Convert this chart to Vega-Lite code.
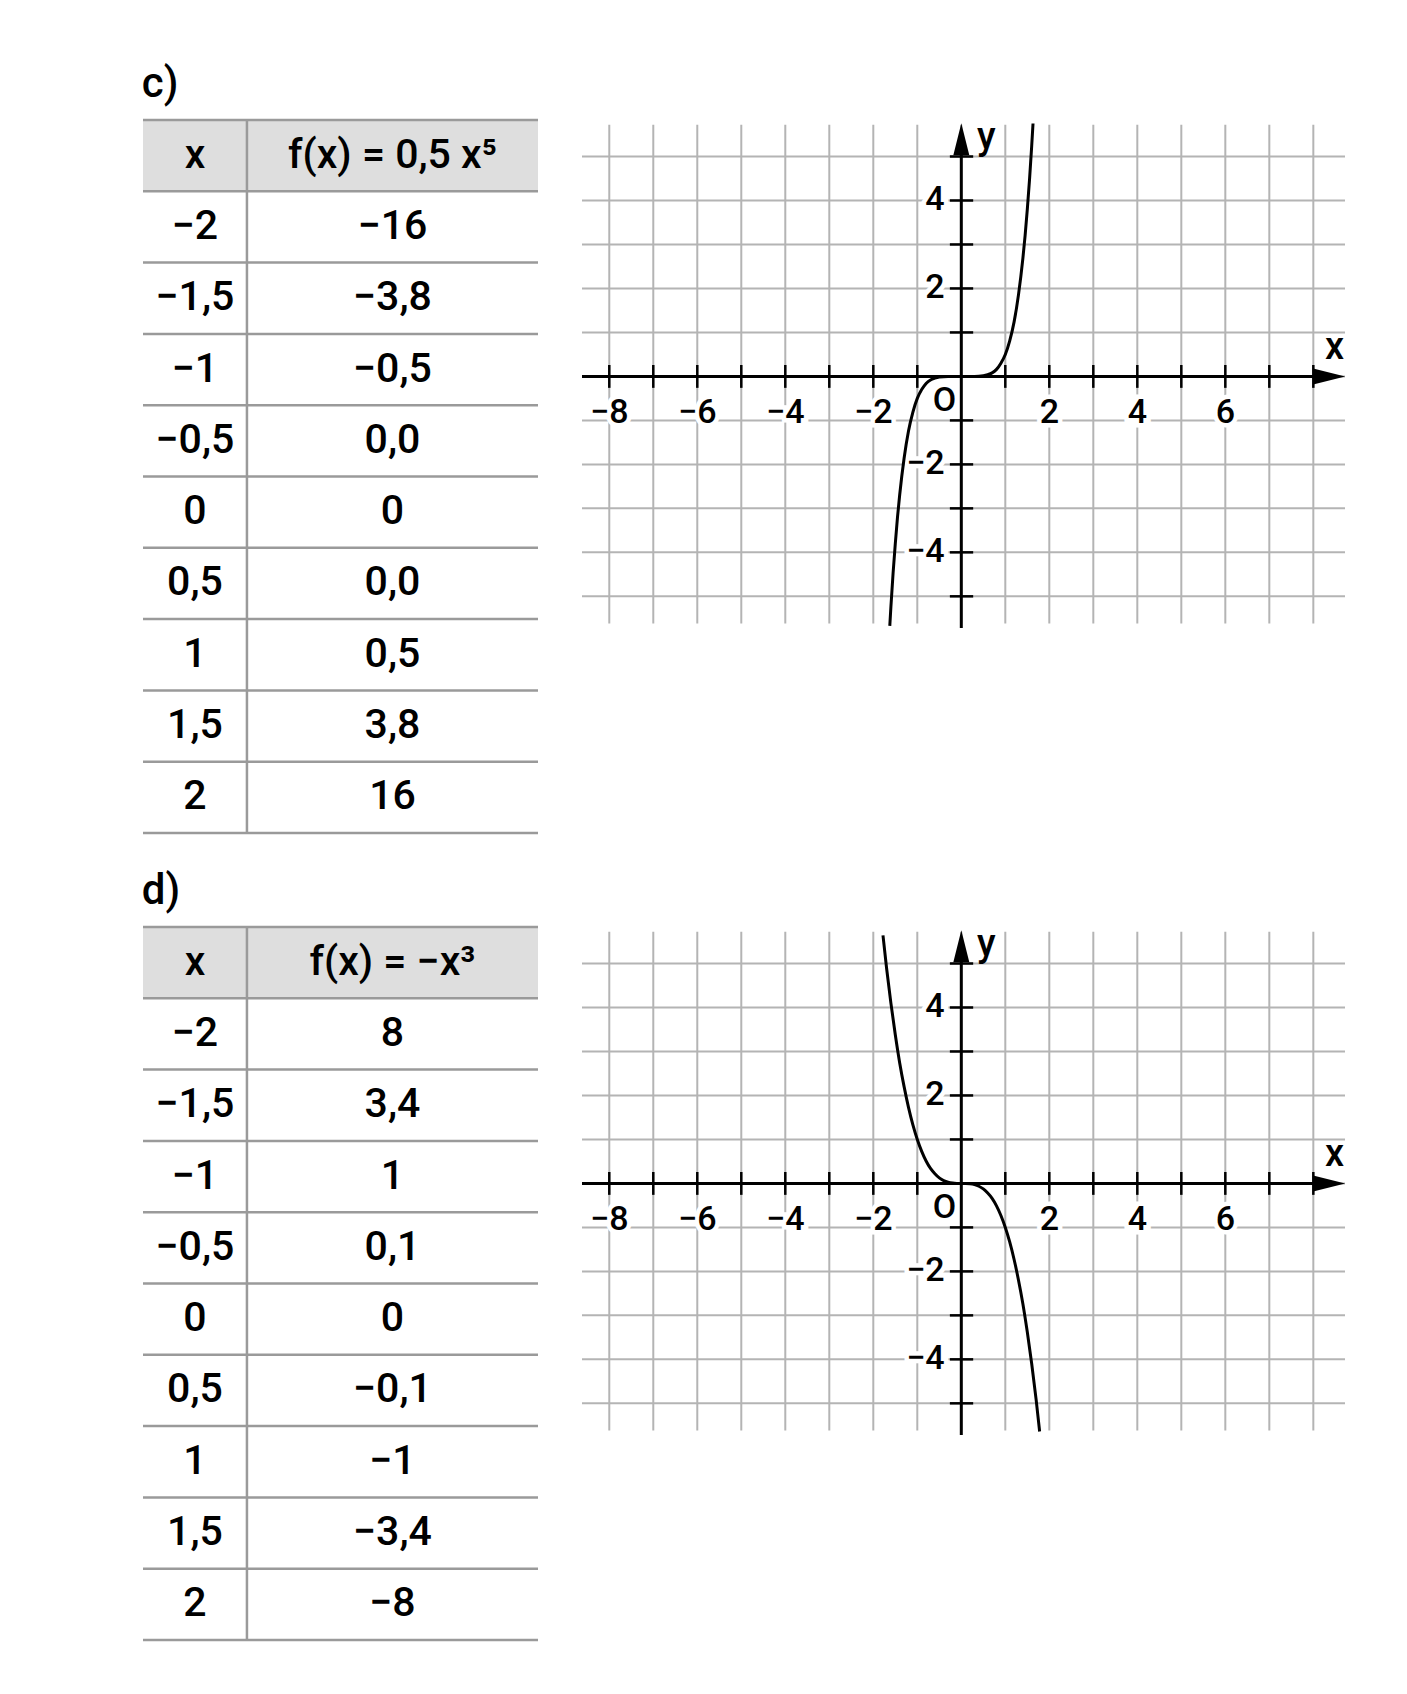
{
  "$schema": "https://vega.github.io/schema/vega-lite/v6.json",
  "background": "white",
  "padding": {"left": 141, "top": 62, "right": 20, "bottom": 20},
  "config": {"view": {"stroke": null}, "font": "Roboto"},
  "columns": 2,
  "align": "each",
  "bounds": "flush",
  "spacing": {"row": 94, "column": 44},
  "datasets": {
    "tableC": [
      {"x": "x", "f": "f(x) = 0,5 x⁵"},
      {"x": "−2", "f": "−16"},
      {"x": "−1,5", "f": "−3,8"},
      {"x": "−1", "f": "−0,5"},
      {"x": "−0,5", "f": "0,0"},
      {"x": "0", "f": "0"},
      {"x": "0,5", "f": "0,0"},
      {"x": "1", "f": "0,5"},
      {"x": "1,5", "f": "3,8"},
      {"x": "2", "f": "16"}
    ],
    "tableD": [
      {"x": "x", "f": "f(x) = −x³"},
      {"x": "−2", "f": "8"},
      {"x": "−1,5", "f": "3,4"},
      {"x": "−1", "f": "1"},
      {"x": "−0,5", "f": "0,1"},
      {"x": "0", "f": "0"},
      {"x": "0,5", "f": "−0,1"},
      {"x": "1", "f": "−1"},
      {"x": "1,5", "f": "−3,4"},
      {"x": "2", "f": "−8"}
    ],
    "gridX": [{"v": -8}, {"v": -7}, {"v": -6}, {"v": -5}, {"v": -4}, {"v": -3}, {"v": -2}, {"v": -1}, {"v": 0}, {"v": 1}, {"v": 2}, {"v": 3}, {"v": 4}, {"v": 5}, {"v": 6}, {"v": 7}, {"v": 8}],
    "gridY": [{"v": -5}, {"v": -4}, {"v": -3}, {"v": -2}, {"v": -1}, {"v": 0}, {"v": 1}, {"v": 2}, {"v": 3}, {"v": 4}, {"v": 5}],
    "tickX": [{"v": -8}, {"v": -7}, {"v": -6}, {"v": -5}, {"v": -4}, {"v": -3}, {"v": -2}, {"v": -1}, {"v": 1}, {"v": 2}, {"v": 3}, {"v": 4}, {"v": 5}, {"v": 6}, {"v": 7}, {"v": 8}],
    "tickY": [{"v": -5}, {"v": -4}, {"v": -3}, {"v": -2}, {"v": -1}, {"v": 1}, {"v": 2}, {"v": 3}, {"v": 4}, {"v": 5}],
    "labX": [{"v": -8, "t": "−8"}, {"v": -6, "t": "−6"}, {"v": -4, "t": "−4"}, {"v": -2, "t": "−2"}, {"v": 2, "t": "2"}, {"v": 4, "t": "4"}, {"v": 6, "t": "6"}],
    "labY": [{"v": 4, "t": "4"}, {"v": 2, "t": "2"}, {"v": -2, "t": "−2"}, {"v": -4, "t": "−4"}],
    "curveC": [
      {"x": -1.625, "y": -5.67}, {"x": -1.6, "y": -5.24}, {"x": -1.55, "y": -4.47}, {"x": -1.5, "y": -3.8}, {"x": -1.45, "y": -3.2}, {"x": -1.4, "y": -2.69},
      {"x": -1.3, "y": -1.86}, {"x": -1.2, "y": -1.24}, {"x": -1.1, "y": -0.81}, {"x": -1.0, "y": -0.5}, {"x": -0.9, "y": -0.3},
      {"x": -0.8, "y": -0.16}, {"x": -0.7, "y": -0.08}, {"x": -0.6, "y": -0.04}, {"x": -0.5, "y": -0.016}, {"x": -0.3, "y": -0.001},
      {"x": 0, "y": 0}, {"x": 0.3, "y": 0.001}, {"x": 0.5, "y": 0.016}, {"x": 0.6, "y": 0.04}, {"x": 0.7, "y": 0.08}, {"x": 0.8, "y": 0.16},
      {"x": 0.9, "y": 0.3}, {"x": 1.0, "y": 0.5}, {"x": 1.1, "y": 0.81}, {"x": 1.2, "y": 1.24}, {"x": 1.3, "y": 1.86}, {"x": 1.4, "y": 2.69},
      {"x": 1.45, "y": 3.2}, {"x": 1.5, "y": 3.8}, {"x": 1.55, "y": 4.47}, {"x": 1.6, "y": 5.24}, {"x": 1.63, "y": 5.75}
    ],
    "curveD": [
      {"x": -1.78, "y": 5.64}, {"x": -1.7, "y": 4.91}, {"x": -1.6, "y": 4.1}, {"x": -1.5, "y": 3.38}, {"x": -1.4, "y": 2.74},
      {"x": -1.3, "y": 2.2}, {"x": -1.2, "y": 1.73}, {"x": -1.1, "y": 1.33}, {"x": -1.0, "y": 1.0}, {"x": -0.9, "y": 0.73},
      {"x": -0.8, "y": 0.51}, {"x": -0.7, "y": 0.34}, {"x": -0.6, "y": 0.22}, {"x": -0.5, "y": 0.125}, {"x": -0.4, "y": 0.064},
      {"x": -0.3, "y": 0.027}, {"x": -0.2, "y": 0.008}, {"x": -0.1, "y": 0.001}, {"x": 0, "y": 0}, {"x": 0.1, "y": -0.001},
      {"x": 0.2, "y": -0.008}, {"x": 0.3, "y": -0.027}, {"x": 0.4, "y": -0.064}, {"x": 0.5, "y": -0.125}, {"x": 0.6, "y": -0.22},
      {"x": 0.7, "y": -0.34}, {"x": 0.8, "y": -0.51}, {"x": 0.9, "y": -0.73}, {"x": 1.0, "y": -1.0}, {"x": 1.1, "y": -1.33},
      {"x": 1.2, "y": -1.73}, {"x": 1.3, "y": -2.2}, {"x": 1.4, "y": -2.74}, {"x": 1.5, "y": -3.38}, {"x": 1.6, "y": -4.1},
      {"x": 1.7, "y": -4.91}, {"x": 1.78, "y": -5.64}
    ],
    "one": [{"k": 1}]
  },
  "concat": [
    {
      "title": {"text": "c)", "anchor": "start", "fontSize": 42, "fontWeight": 500, "baseline": "alphabetic", "offset": -20, "font": "Roboto", "color": "black"},
      "width": 395, "height": 713,
      "data": {"name": "tableC"},
      "layer": [
        {"transform": [{"filter": "datum.x === 'x'"}], "mark": {"type": "rect", "fill": "#dedede"},
         "encoding": {"y": {"field": "x", "type": "ordinal", "sort": null, "axis": null, "scale": {"domain": ["x", "−2", "−1,5", "−1", "−0,5", "0", "0,5", "1", "1,5", "2"], "paddingInner": 0, "paddingOuter": 0}},
                      "x": {"datum": 0, "type": "quantitative", "axis": null, "scale": {"domain": [0, 3.8], "nice": false}}, "x2": {"datum": 3.8}}},
        {"mark": {"type": "rule", "stroke": "#9a9a9a", "strokeWidth": 2.5},
         "encoding": {"y": {"field": "x", "type": "ordinal", "sort": null, "bandPosition": 0, "axis": null}}},
        {"transform": [{"filter": "datum.x === '2'"}], "mark": {"type": "rule", "stroke": "#9a9a9a", "strokeWidth": 2.5},
         "encoding": {"y": {"field": "x", "type": "ordinal", "sort": null, "bandPosition": 1, "axis": null}}},
        {"transform": [{"filter": "datum.x === 'x'"}], "mark": {"type": "rule", "stroke": "#9a9a9a", "strokeWidth": 2.5},
         "encoding": {"x": {"datum": 1, "type": "quantitative"}}},
        {"mark": {"type": "text", "fontSize": 41, "fontWeight": 500, "color": "black", "baseline": "middle", "align": "center"},
         "encoding": {"y": {"field": "x", "type": "ordinal", "sort": null, "axis": null}, "x": {"datum": 0.5, "type": "quantitative"}, "text": {"field": "x"}}},
        {"mark": {"type": "text", "fontSize": 41, "fontWeight": 500, "color": "black", "baseline": "middle", "align": "center"},
         "encoding": {"y": {"field": "x", "type": "ordinal", "sort": null, "axis": null}, "x": {"datum": 2.4, "type": "quantitative"}, "text": {"field": "f"}}}
      ]
    },
    {
      "width": 763, "height": 508,
      "layer": [
        {"data": {"name": "gridX"}, "mark": {"type": "rule", "stroke": "#b4b4b4", "strokeWidth": 2},
         "encoding": {"x": {"field": "v", "type": "quantitative", "axis": null, "scale": {"domain": [-8.62, 8.72], "nice": false, "zero": false}},
                      "y": {"datum": -5.62, "type": "quantitative", "axis": null, "scale": {"domain": [-5.72, 5.83], "nice": false, "zero": false}}, "y2": {"datum": 5.72}}},
        {"data": {"name": "gridY"}, "mark": {"type": "rule", "stroke": "#b4b4b4", "strokeWidth": 2},
         "encoding": {"y": {"field": "v", "type": "quantitative"}, "x": {"datum": -8.62, "type": "quantitative"}, "x2": {"datum": 8.72}}},
        {"data": {"name": "labX"}, "mark": {"type": "text", "fontSize": 34, "fontWeight": 500, "fill": "white", "stroke": "white", "strokeWidth": 9, "baseline": "middle", "align": "center"},
         "encoding": {"x": {"field": "v", "type": "quantitative"}, "y": {"datum": -0.83, "type": "quantitative"}, "text": {"field": "t"}}},
        {"data": {"name": "labX"}, "mark": {"type": "text", "fontSize": 34, "fontWeight": 500, "color": "black", "baseline": "middle", "align": "center"},
         "encoding": {"x": {"field": "v", "type": "quantitative"}, "y": {"datum": -0.83, "type": "quantitative"}, "text": {"field": "t"}}},
        {"data": {"name": "labY"}, "mark": {"type": "text", "fontSize": 34, "fontWeight": 500, "fill": "white", "stroke": "white", "strokeWidth": 9, "baseline": "middle", "align": "right"},
         "encoding": {"x": {"datum": -0.38, "type": "quantitative"}, "y": {"field": "v", "type": "quantitative"}, "text": {"field": "t"}}},
        {"data": {"name": "labY"}, "mark": {"type": "text", "fontSize": 34, "fontWeight": 500, "color": "black", "baseline": "middle", "align": "right"},
         "encoding": {"x": {"datum": -0.38, "type": "quantitative"}, "y": {"field": "v", "type": "quantitative"}, "text": {"field": "t"}}},
        {"data": {"name": "one"}, "mark": {"type": "text", "fontSize": 34, "fontWeight": 500, "color": "black", "baseline": "middle", "align": "center", "text": "O"},
         "encoding": {"x": {"datum": -0.38, "type": "quantitative"}, "y": {"datum": -0.55, "type": "quantitative"}}},
        {"data": {"name": "one"}, "mark": {"type": "text", "fontSize": 38, "fontWeight": 500, "color": "black", "baseline": "middle", "align": "center", "text": "y"},
         "encoding": {"x": {"datum": 0.57, "type": "quantitative"}, "y": {"datum": 5.42, "type": "quantitative"}}},
        {"data": {"name": "one"}, "mark": {"type": "text", "fontSize": 38, "fontWeight": 500, "color": "black", "baseline": "middle", "align": "center", "text": "x"},
         "encoding": {"x": {"datum": 8.48, "type": "quantitative"}, "y": {"datum": 0.65, "type": "quantitative"}}},
        {"data": {"name": "one"}, "mark": {"type": "rule", "stroke": "black", "strokeWidth": 3},
         "encoding": {"x": {"datum": -8.62, "type": "quantitative"}, "x2": {"datum": 8.4}, "y": {"datum": 0, "type": "quantitative"}}},
        {"data": {"name": "one"}, "mark": {"type": "rule", "stroke": "black", "strokeWidth": 3},
         "encoding": {"x": {"datum": 0, "type": "quantitative"}, "y": {"datum": -5.72, "type": "quantitative"}, "y2": {"datum": 5.45}}},
        {"data": {"name": "tickX"}, "mark": {"type": "rule", "stroke": "black", "strokeWidth": 2.5},
         "encoding": {"x": {"field": "v", "type": "quantitative"}, "y": {"datum": -0.26, "type": "quantitative"}, "y2": {"datum": 0.26}}},
        {"data": {"name": "tickY"}, "mark": {"type": "rule", "stroke": "black", "strokeWidth": 2.5},
         "encoding": {"y": {"field": "v", "type": "quantitative"}, "x": {"datum": -0.26, "type": "quantitative"}, "x2": {"datum": 0.27}}},
        {"data": {"name": "one"}, "mark": {"type": "point", "shape": "M -1 -0.5 L 1 0 L -1 0.5 Z", "size": 1024, "filled": true, "color": "black", "opacity": 1, "strokeWidth": 0},
         "encoding": {"x": {"datum": 8.36, "type": "quantitative"}, "y": {"datum": 0, "type": "quantitative"}}},
        {"data": {"name": "one"}, "mark": {"type": "point", "shape": "M -0.5 1 L 0 -1 L 0.5 1 Z", "size": 1024, "filled": true, "color": "black", "opacity": 1, "strokeWidth": 0},
         "encoding": {"x": {"datum": 0, "type": "quantitative"}, "y": {"datum": 5.39, "type": "quantitative"}}},
        {"data": {"name": "curveC"}, "mark": {"type": "line", "stroke": "black", "strokeWidth": 3, "interpolate": "monotone"},
         "encoding": {"x": {"field": "x", "type": "quantitative"}, "y": {"field": "y", "type": "quantitative"}}}
      ]
    },
    {
      "title": {"text": "d)", "anchor": "start", "fontSize": 42, "fontWeight": 500, "baseline": "alphabetic", "offset": -20, "font": "Roboto", "color": "black"},
      "width": 395, "height": 713,
      "data": {"name": "tableD"},
      "layer": [
        {"transform": [{"filter": "datum.x === 'x'"}], "mark": {"type": "rect", "fill": "#dedede"},
         "encoding": {"y": {"field": "x", "type": "ordinal", "sort": null, "axis": null, "scale": {"domain": ["x", "−2", "−1,5", "−1", "−0,5", "0", "0,5", "1", "1,5", "2"], "paddingInner": 0, "paddingOuter": 0}},
                      "x": {"datum": 0, "type": "quantitative", "axis": null, "scale": {"domain": [0, 3.8], "nice": false}}, "x2": {"datum": 3.8}}},
        {"mark": {"type": "rule", "stroke": "#9a9a9a", "strokeWidth": 2.5},
         "encoding": {"y": {"field": "x", "type": "ordinal", "sort": null, "bandPosition": 0, "axis": null}}},
        {"transform": [{"filter": "datum.x === '2'"}], "mark": {"type": "rule", "stroke": "#9a9a9a", "strokeWidth": 2.5},
         "encoding": {"y": {"field": "x", "type": "ordinal", "sort": null, "bandPosition": 1, "axis": null}}},
        {"transform": [{"filter": "datum.x === 'x'"}], "mark": {"type": "rule", "stroke": "#9a9a9a", "strokeWidth": 2.5},
         "encoding": {"x": {"datum": 1, "type": "quantitative"}}},
        {"mark": {"type": "text", "fontSize": 41, "fontWeight": 500, "color": "black", "baseline": "middle", "align": "center"},
         "encoding": {"y": {"field": "x", "type": "ordinal", "sort": null, "axis": null}, "x": {"datum": 0.5, "type": "quantitative"}, "text": {"field": "x"}}},
        {"mark": {"type": "text", "fontSize": 41, "fontWeight": 500, "color": "black", "baseline": "middle", "align": "center"},
         "encoding": {"y": {"field": "x", "type": "ordinal", "sort": null, "axis": null}, "x": {"datum": 2.4, "type": "quantitative"}, "text": {"field": "f"}}}
      ]
    },
    {
      "width": 763, "height": 508,
      "layer": [
        {"data": {"name": "gridX"}, "mark": {"type": "rule", "stroke": "#b4b4b4", "strokeWidth": 2},
         "encoding": {"x": {"field": "v", "type": "quantitative", "axis": null, "scale": {"domain": [-8.62, 8.72], "nice": false, "zero": false}},
                      "y": {"datum": -5.62, "type": "quantitative", "axis": null, "scale": {"domain": [-5.72, 5.83], "nice": false, "zero": false}}, "y2": {"datum": 5.72}}},
        {"data": {"name": "gridY"}, "mark": {"type": "rule", "stroke": "#b4b4b4", "strokeWidth": 2},
         "encoding": {"y": {"field": "v", "type": "quantitative"}, "x": {"datum": -8.62, "type": "quantitative"}, "x2": {"datum": 8.72}}},
        {"data": {"name": "labX"}, "mark": {"type": "text", "fontSize": 34, "fontWeight": 500, "fill": "white", "stroke": "white", "strokeWidth": 9, "baseline": "middle", "align": "center"},
         "encoding": {"x": {"field": "v", "type": "quantitative"}, "y": {"datum": -0.83, "type": "quantitative"}, "text": {"field": "t"}}},
        {"data": {"name": "labX"}, "mark": {"type": "text", "fontSize": 34, "fontWeight": 500, "color": "black", "baseline": "middle", "align": "center"},
         "encoding": {"x": {"field": "v", "type": "quantitative"}, "y": {"datum": -0.83, "type": "quantitative"}, "text": {"field": "t"}}},
        {"data": {"name": "labY"}, "mark": {"type": "text", "fontSize": 34, "fontWeight": 500, "fill": "white", "stroke": "white", "strokeWidth": 9, "baseline": "middle", "align": "right"},
         "encoding": {"x": {"datum": -0.38, "type": "quantitative"}, "y": {"field": "v", "type": "quantitative"}, "text": {"field": "t"}}},
        {"data": {"name": "labY"}, "mark": {"type": "text", "fontSize": 34, "fontWeight": 500, "color": "black", "baseline": "middle", "align": "right"},
         "encoding": {"x": {"datum": -0.38, "type": "quantitative"}, "y": {"field": "v", "type": "quantitative"}, "text": {"field": "t"}}},
        {"data": {"name": "one"}, "mark": {"type": "text", "fontSize": 34, "fontWeight": 500, "color": "black", "baseline": "middle", "align": "center", "text": "O"},
         "encoding": {"x": {"datum": -0.38, "type": "quantitative"}, "y": {"datum": -0.55, "type": "quantitative"}}},
        {"data": {"name": "one"}, "mark": {"type": "text", "fontSize": 38, "fontWeight": 500, "color": "black", "baseline": "middle", "align": "center", "text": "y"},
         "encoding": {"x": {"datum": 0.57, "type": "quantitative"}, "y": {"datum": 5.42, "type": "quantitative"}}},
        {"data": {"name": "one"}, "mark": {"type": "text", "fontSize": 38, "fontWeight": 500, "color": "black", "baseline": "middle", "align": "center", "text": "x"},
         "encoding": {"x": {"datum": 8.48, "type": "quantitative"}, "y": {"datum": 0.65, "type": "quantitative"}}},
        {"data": {"name": "one"}, "mark": {"type": "rule", "stroke": "black", "strokeWidth": 3},
         "encoding": {"x": {"datum": -8.62, "type": "quantitative"}, "x2": {"datum": 8.4}, "y": {"datum": 0, "type": "quantitative"}}},
        {"data": {"name": "one"}, "mark": {"type": "rule", "stroke": "black", "strokeWidth": 3},
         "encoding": {"x": {"datum": 0, "type": "quantitative"}, "y": {"datum": -5.72, "type": "quantitative"}, "y2": {"datum": 5.45}}},
        {"data": {"name": "tickX"}, "mark": {"type": "rule", "stroke": "black", "strokeWidth": 2.5},
         "encoding": {"x": {"field": "v", "type": "quantitative"}, "y": {"datum": -0.26, "type": "quantitative"}, "y2": {"datum": 0.26}}},
        {"data": {"name": "tickY"}, "mark": {"type": "rule", "stroke": "black", "strokeWidth": 2.5},
         "encoding": {"y": {"field": "v", "type": "quantitative"}, "x": {"datum": -0.26, "type": "quantitative"}, "x2": {"datum": 0.27}}},
        {"data": {"name": "one"}, "mark": {"type": "point", "shape": "M -1 -0.5 L 1 0 L -1 0.5 Z", "size": 1024, "filled": true, "color": "black", "opacity": 1, "strokeWidth": 0},
         "encoding": {"x": {"datum": 8.36, "type": "quantitative"}, "y": {"datum": 0, "type": "quantitative"}}},
        {"data": {"name": "one"}, "mark": {"type": "point", "shape": "M -0.5 1 L 0 -1 L 0.5 1 Z", "size": 1024, "filled": true, "color": "black", "opacity": 1, "strokeWidth": 0},
         "encoding": {"x": {"datum": 0, "type": "quantitative"}, "y": {"datum": 5.39, "type": "quantitative"}}},
        {"data": {"name": "curveD"}, "mark": {"type": "line", "stroke": "black", "strokeWidth": 3, "interpolate": "monotone"},
         "encoding": {"x": {"field": "x", "type": "quantitative"}, "y": {"field": "y", "type": "quantitative"}}}
      ]
    }
  ]
}
